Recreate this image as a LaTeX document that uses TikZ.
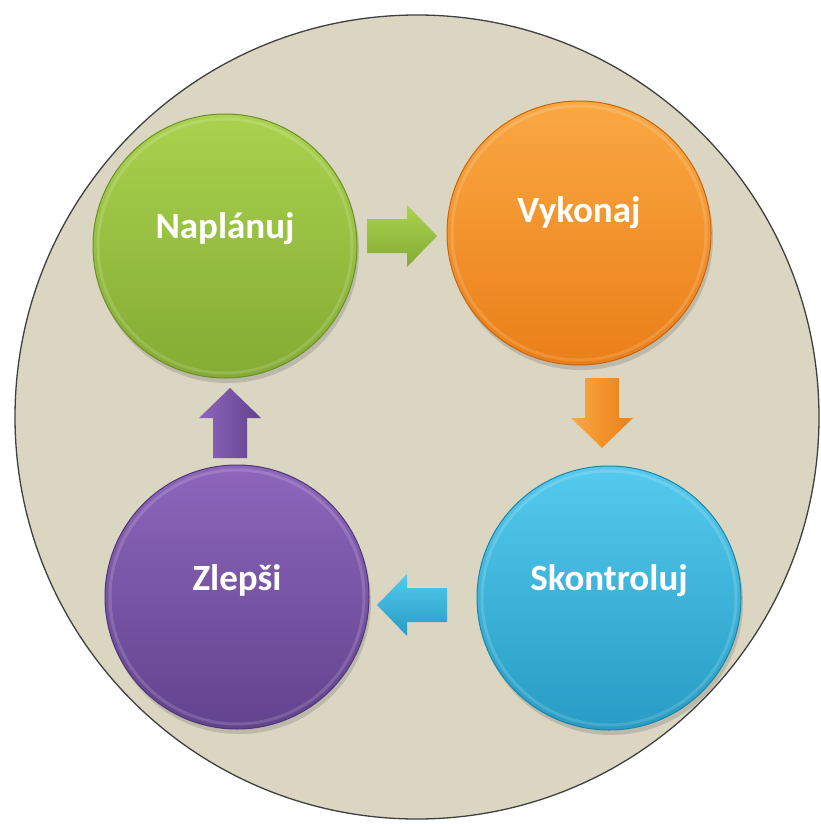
\documentclass[tikz,border=0pt]{standalone}
\usepackage{fontspec}
\setmainfont{Carlito}
\usetikzlibrary{calc,shadows}
\definecolor{bgtan}{HTML}{DAD6C2}
\definecolor{gTop}{HTML}{AAD24E}
\definecolor{gBot}{HTML}{84AB33}
\definecolor{gEdge}{HTML}{6C8F27}
\definecolor{oTop}{HTML}{FAA843}
\definecolor{oBot}{HTML}{EA7F18}
\definecolor{oEdge}{HTML}{C8650F}
\definecolor{cTop}{HTML}{55CAEE}
\definecolor{cBot}{HTML}{279CC4}
\definecolor{cEdge}{HTML}{1E84A6}
\definecolor{pTop}{HTML}{8D66BB}
\definecolor{pBot}{HTML}{62438E}
\definecolor{pEdge}{HTML}{4F3574}
\tikzset{
  bubble/.style={circle, minimum size=264pt, inner sep=0pt, line width=1pt,
    drop shadow={shadow xshift=2pt, shadow yshift=-5pt, opacity=0.25, fill=black!60}},
  lbl/.style={text=white, font=\bfseries\fontsize{37}{42}\selectfont},
  flowarrow/.pic={\path[pic actions] (-35,-17) -- (5,-17) -- (5,-31) -- (35,0) -- (5,31) -- (5,17) -- (-35,17) -- cycle;}
}
\begin{document}
\begin{tikzpicture}[x=1pt,y=-1pt]
\useasboundingbox (0,0) rectangle (820,824);
\fill[white] (0,0) rectangle (820,824);
% big background disc
\node[circle, minimum size=804pt, inner sep=0pt, fill=bgtan, draw=black!75, line width=1.3pt] (disc) at (417,417) {};
% stage circles
\node[bubble, top color=gTop, bottom color=gBot, draw=gEdge] (plan) at (225,246) {};
\node[bubble, top color=oTop, bottom color=oBot, draw=oEdge] (do) at (579,233) {};
\node[bubble, top color=cTop, bottom color=cBot, draw=cEdge] (check) at (609,598) {};
\node[bubble, top color=pTop, bottom color=pBot, draw=pEdge] (act) at (237,597) {};
% inner bevel highlight
\foreach \n in {plan,do,check,act}{
  \draw[white, opacity=0.15, line width=3pt] (\n.center) circle (127pt);
}
% labels
\node[lbl] (tplan) at ($(plan.center)+(0,-17)$) {Naplánuj};
\node[lbl] (tdo) at ($(do.center)+(0,-20)$) {Vykonaj};
\node[lbl] (tcheck) at ($(check.center)+(0,-17)$) {Skontroluj};
\node[lbl] (tact) at ($(act.center)+(0,-17)$) {Zlepši};
% arrows between stages
\coordinate (a1) at (402,236);
\coordinate (a2) at (602,413);
\coordinate (a3) at (412,605);
\coordinate (a4) at (230,423);
\pic[top color=gTop, bottom color=gBot] at (a1) {flowarrow};
\pic[rotate=-90, left color=oTop, right color=oBot] at (a2) {flowarrow};
\pic[rotate=180, top color=cTop, bottom color=cBot] at (a3) {flowarrow};
\pic[rotate=90, left color=pTop, right color=pBot] at (a4) {flowarrow};
\end{tikzpicture}
\end{document}
